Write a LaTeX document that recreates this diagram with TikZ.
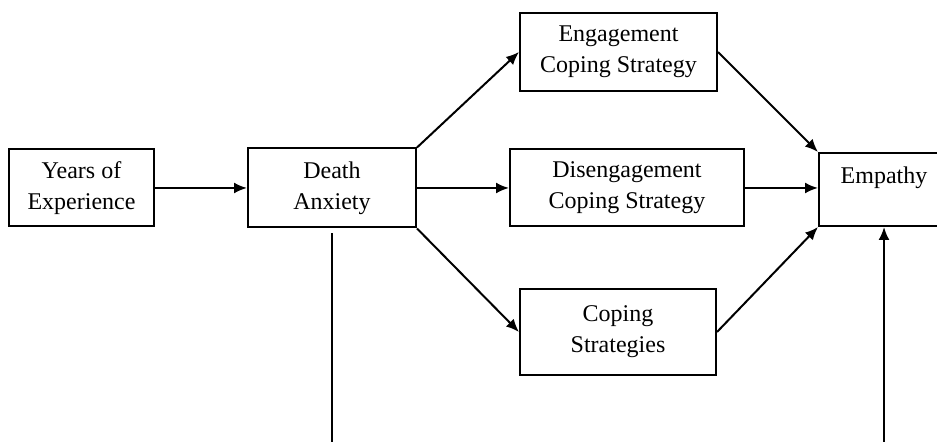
\documentclass[tikz,border=0pt]{standalone}
\usepackage{fontspec}
\setmainfont{Liberation Serif}
\usetikzlibrary{arrows.meta}

\tikzset{
  varbox/.style={draw, line width=1pt, align=center, inner sep=0pt, font=\fontsize{12}{15.5}\selectfont},
  link/.style={line width=1pt, ->}
}

\begin{document}
\begin{tikzpicture}[>={Latex[length=6.5pt, width=5.5pt]}, x=0.5pt, y=-0.5pt]

\useasboundingbox (0, 0) rectangle (937, 442);
\clip (0, 0) rectangle (937, 442);

% variables
\node[varbox, minimum width=72.5pt, minimum height=38.5pt] (years) at (81.5, 188) {Years of\\Experience};
\node[varbox, minimum width=84pt, minimum height=39.5pt] (death) at (332, 188) {Death\\Anxiety};
\node[varbox, minimum width=98.5pt, minimum height=39pt] (engage) at (618.5, 52) {Engagement\\Coping Strategy};
\node[varbox, minimum width=117pt, minimum height=38.5pt] (diseng) at (627, 188) {Disengagement\\Coping Strategy};
\node[varbox, minimum width=98pt, minimum height=43pt] (coping) at (618, 332) {Coping\\Strategies};
\node[varbox, minimum width=65pt, minimum height=36.5pt] (empathy) at (884, 189.5) {Empathy\\[-6pt]\strut};

\coordinate (low) at (332, 470);

% paths
\draw[link] (years) -- (death);
\draw[link] (death.north east) -- (engage.west);
\draw[link] (death.east) -- (diseng.west);
\draw[link] (death.south east) -- (coping.west);
\draw[link] (engage.east) -- (empathy.north west);
\draw[link] (diseng.east) -- (diseng.east -| empathy.west);
\draw[link] (coping.east) -- (empathy.south west);

\draw[link, shorten <=2.5pt] (death.south) -- (low) -| (empathy.south);

\end{tikzpicture}
\end{document}
